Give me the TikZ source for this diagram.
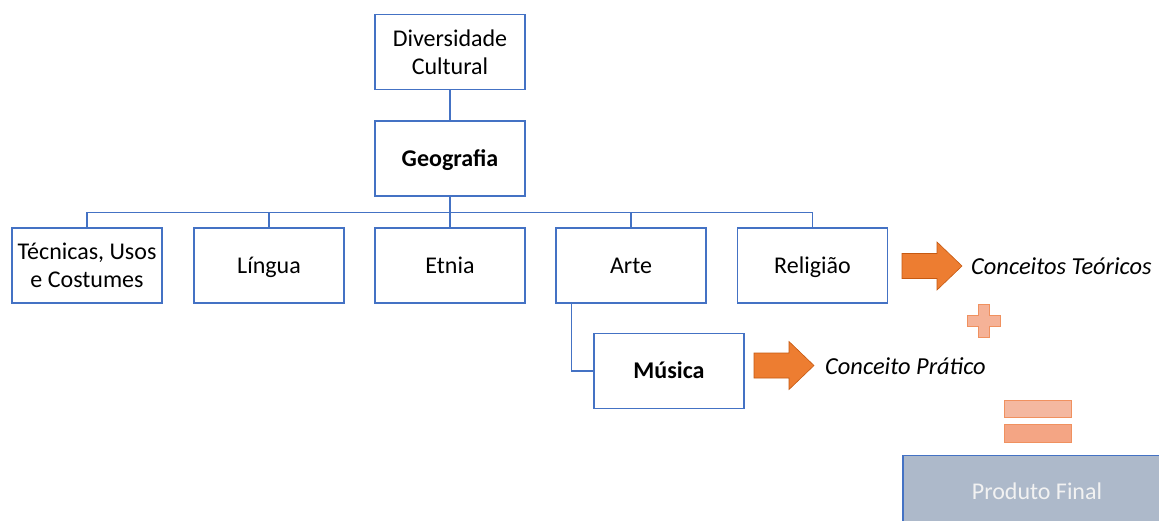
\documentclass[tikz,border=0pt]{standalone}
\usepackage{fontspec}
\setmainfont{Carlito}
\definecolor{boxblue}{HTML}{4472C4}
\definecolor{arrowfill}{HTML}{ED7D31}
\definecolor{arrowedge}{HTML}{C65911}
\definecolor{plusfill}{HTML}{F5B297}
\definecolor{softedge}{HTML}{F0915F}
\definecolor{barlight}{HTML}{F4B8A0}
\definecolor{bardark}{HTML}{F4A584}
\definecolor{resultfill}{HTML}{ADB9CA}
\definecolor{resulttext}{HTML}{F2F2F2}
\begin{document}
\begin{tikzpicture}[x=1pt,y=-1pt,
  every node/.style={font=\fontsize{24}{28}\selectfont},
  topicbox/.style={draw=boxblue, line width=1.3pt, minimum width=150pt,
    minimum height=75pt, inner sep=2pt, align=center},
  oneline/.style={topicbox, text height=18pt, text depth=3pt},
  link/.style={draw=boxblue, line width=1.3pt},
  blockarrow/.style={fill=arrowfill, draw=arrowedge, line width=0.6pt},
  softshape/.style={draw=softedge, line width=0.8pt},
  note/.style={font=\fontsize{24.4}{28}\selectfont\itshape, anchor=west, inner sep=0pt}]
\clip (0,0) rectangle (1159,520);
\fill[white] (0,0) rectangle (1159,520);

% hierarchy
\node[topicbox] (div) at (450,52) {Diversidade\\Cultural};
\node[oneline] (geo) at (450,158.5) {\bfseries Geografia};
\node[topicbox] (tec) at (87,265.5) {Técnicas, Usos\\e Costumes};
\node[oneline] (lin) at (269,265.5) {Língua};
\node[oneline] (etn) at (450,265.5) {Etnia};
\node[oneline] (art) at (631,265.5) {Arte};
\node[oneline] (rel) at (812.5,265.5) {Religião};
\node[oneline] (mus) at (669,371) {\bfseries Música};

\draw[link] (div.south) -- (geo.north);
\foreach \c in {tec,lin,etn,art,rel}
  \draw[link] (geo.south) -- ++(0,16) -| (\c.north);
\draw[link] (art.south) ++(-59.5,0) |- (mus.west);

% block arrows
\coordinate (arrA) at (902,266);
\coordinate (arrB) at (754,365.5);
\foreach \a in {arrA,arrB}
  \draw[blockarrow] (\a) ++(0,-12.5) -- ++(35,0) -- ++(0,-11.5) -- ++(25,24)
    -- ++(-25,24) -- ++(0,-11.5) -- ++(-35,0) -- cycle;

\node[note] (teo) at (971,266) {Conceitos Teóricos};
\node[note] (pra) at (825,366) {Conceito Prático};

% plus sign
\coordinate (plus) at (983.5,321);
\draw[softshape, fill=plusfill] (plus) ++(-5.5,-16.5) -- ++(11,0) -- ++(0,11)
  -- ++(11,0) -- ++(0,11) -- ++(-11,0) -- ++(0,11) -- ++(-11,0) -- ++(0,-11)
  -- ++(-11,0) -- ++(0,-11) -- ++(11,0) -- cycle;

% equals sign
\draw[softshape, fill=barlight] (1004,400) rectangle (1071,417);
\draw[softshape, fill=bardark] (1004,424.5) rectangle (1071,442);

% result
\draw[fill=resultfill, draw=boxblue, line width=1.3pt] (903,455.5) rectangle (1175,530);
\node[text=resulttext, inner sep=0pt] (prod) at (1037,491) {Produto Final};
\end{tikzpicture}
\end{document}
